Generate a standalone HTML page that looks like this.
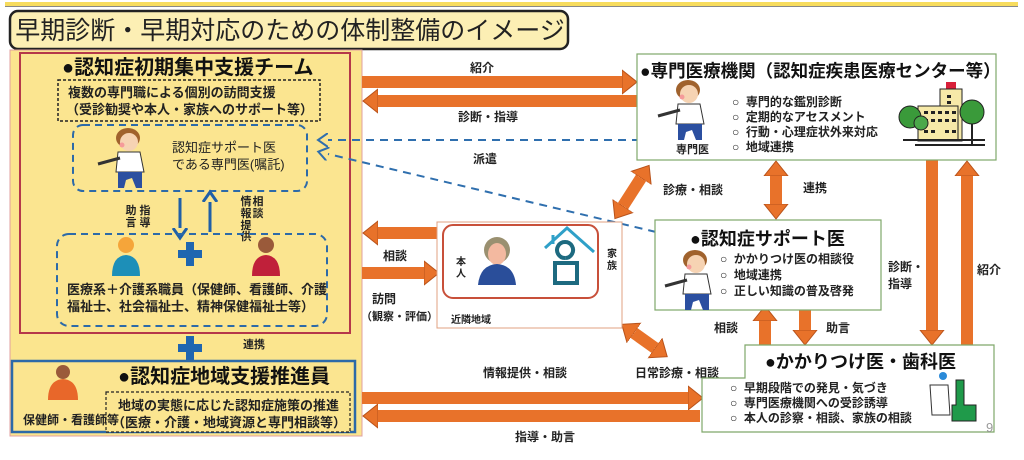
<!DOCTYPE html>
<html><head><meta charset="utf-8"><style>
html,body{margin:0;padding:0;background:#fff;}
svg{display:block;font-family:"Liberation Sans","Noto Sans CJK JP",sans-serif;}
.b{font-weight:bold;}
</style></head><body>
<svg width="1024" height="460" viewBox="0 0 1024 460" xmlns="http://www.w3.org/2000/svg">
<defs>
<marker id="ah" markerUnits="userSpaceOnUse" markerWidth="16" markerHeight="26" refX="0" refY="13" orient="auto-start-reverse">
<path d="M0,1 L15,13 L0,25 Z" fill="#e8722a" stroke="#b8521a" stroke-width="1"/>
</marker>
<marker id="bh" markerUnits="userSpaceOnUse" markerWidth="12" markerHeight="14" refX="0" refY="7" orient="auto-start-reverse">
<path d="M0,0 L10,7 L0,14" fill="none" stroke="#2f6fae" stroke-width="2"/>
</marker>
<marker id="vh" markerUnits="userSpaceOnUse" markerWidth="14" markerHeight="16" refX="0" refY="8" orient="auto">
<path d="M0,1 L10,8 L0,15" fill="none" stroke="#1f5fa8" stroke-width="3"/>
</marker>
<g id="doc">
<ellipse cx="20" cy="10" rx="12" ry="10" fill="#a0622d"/>
<ellipse cx="21" cy="14" rx="9" ry="9" fill="#f6d3b3"/>
<circle cx="14" cy="17" r="2.5" fill="#f59a9a"/>
<path d="M10,24 L32,24 L36,44 L8,44 Z" fill="#fff" stroke="#333" stroke-width="1"/>
<path d="M10,44 L34,44 L34,60 L28,60 L24,50 L18,52 L16,60 L10,60 Z" fill="#2b4fa0"/>
<path d="M12,30 L-10,36" stroke="#333" stroke-width="3"/>
</g>
</defs>

<rect x="5" y="2" width="1013" height="4" fill="#f7dc5e"/>
<rect x="5" y="6" width="1013" height="1" fill="#888"/>

<rect x="10" y="11" width="558" height="38" rx="8" fill="#fcefb4" stroke="#222" stroke-width="2.5"/>
<text x="290" y="39" text-anchor="middle" font-size="25" fill="#222">早期診断・早期対応のための体制整備のイメージ</text>

<rect x="10" y="50" width="352" height="386" fill="#fbe58e" stroke="#e0a0a0" stroke-width="1"/>
<rect x="20" y="53" width="330" height="280" fill="#fbe590" stroke="#b5384a" stroke-width="2"/>
<text x="62" y="74" font-size="20" class="b" fill="#111">●認知症初期集中支援チーム</text>
<rect x="58" y="80" width="262" height="41" fill="none" stroke="#222" stroke-width="1.5" stroke-dasharray="3,2"/>
<text x="68" y="97" font-size="13" class="b" fill="#222">複数の専門職による個別の訪問支援</text>
<text x="66" y="114" font-size="13" class="b" fill="#222">（受診勧奨や本人・家族へのサポート等）</text>

<rect x="73" y="125" width="234" height="66" rx="10" fill="none" stroke="#2d6aa8" stroke-width="2" stroke-dasharray="7,5"/>
<use href="#doc" x="108" y="128"/>
<text x="172" y="152" font-size="13" fill="#222">認知症サポート医</text>
<text x="172" y="169" font-size="13" fill="#222">である専門医(嘱託)</text>

<line x1="180" y1="198" x2="180" y2="228" stroke="#1f5fa8" stroke-width="3" marker-end="url(#vh)"/>
<line x1="210" y1="232" x2="210" y2="202" stroke="#1f5fa8" stroke-width="3" marker-end="url(#vh)"/>
<g font-size="11" class="b" fill="#222" text-anchor="middle">
<text x="145" y="214">指</text><text x="145" y="226">導</text>
<text x="131" y="214">助</text><text x="131" y="226">言</text>
<text x="258" y="205">相</text><text x="258" y="217">談</text>
<text x="246" y="205">情</text><text x="246" y="217">報</text><text x="246" y="229">提</text><text x="246" y="240">供</text>
</g>

<rect x="57" y="234" width="270" height="92" rx="12" fill="none" stroke="#2d6aa8" stroke-width="2" stroke-dasharray="7,5"/>
<path d="M186,242 h8 v8 h8 v8 h-8 v8 h-8 v-8 h-8 v-8 h8 Z" fill="#1f66b0"/>
<circle cx="126" cy="245" r="8" fill="#f5a53a"/>
<path d="M112,276 Q112,256 126,255 Q140,256 140,276 Z" fill="#1d8fb8"/>
<circle cx="266" cy="245" r="8" fill="#9a5a3a"/>
<path d="M252,276 Q252,256 266,255 Q280,256 280,276 Z" fill="#c0203a"/>
<text x="67" y="294" font-size="13" class="b" fill="#222">医療系＋介護系職員（保健師、看護師、介護</text>
<text x="67" y="311" font-size="13" class="b" fill="#222">福祉士、社会福祉士、精神保健福祉士等）</text>

<path d="M186,336 h8 v8 h8 v8 h-8 v10 h-8 v-10 h-8 v-8 h8 Z" fill="#1f66b0"/>
<text x="243" y="348" font-size="11" class="b" fill="#222">連携</text>

<rect x="12" y="361" width="343" height="71" fill="#fbe590" stroke="#2d6aa8" stroke-width="2.5"/>
<text x="118" y="383" font-size="20" class="b" fill="#111">●認知症地域支援推進員</text>
<rect x="106" y="392" width="244" height="40" fill="#fbe590" stroke="#222" stroke-width="1.2" stroke-dasharray="3,2"/>
<circle cx="63" cy="372" r="7" fill="#9a5a3a"/>
<path d="M48,400 Q48,380 63,379 Q78,380 78,400 Z" fill="#e8672a"/>
<text x="23" y="424" font-size="12" class="b" fill="#222">保健師・看護師等</text>
<text x="118" y="410" font-size="13" class="b" fill="#222">地域の実態に応じた認知症施策の推進</text>
<text x="112" y="427" font-size="13" class="b" fill="#222">（医療・介護・地域資源と専門相談等）</text>

<g stroke="#e8722a" stroke-width="12" fill="none">
<line x1="362" y1="82" x2="622" y2="82" marker-end="url(#ah)"/>
<line x1="640" y1="101" x2="378" y2="101" marker-end="url(#ah)"/>
<line x1="440" y1="233" x2="378" y2="233" marker-end="url(#ah)"/>
<line x1="362" y1="273" x2="424" y2="273" marker-end="url(#ah)"/>
<line x1="362" y1="398" x2="688" y2="398" marker-end="url(#ah)"/>
<line x1="700" y1="416" x2="378" y2="416" marker-end="url(#ah)"/>
<line x1="623" y1="206" x2="641" y2="178" marker-start="url(#ah)" marker-end="url(#ah)"/>
<line x1="776" y1="176" x2="776" y2="204" marker-start="url(#ah)" marker-end="url(#ah)"/>
<line x1="634" y1="333" x2="655" y2="348" marker-start="url(#ah)" marker-end="url(#ah)"/>
<line x1="765" y1="345" x2="765" y2="321" marker-end="url(#ah)"/>
<line x1="805" y1="310" x2="805" y2="330" marker-end="url(#ah)"/>
<line x1="932" y1="160" x2="932" y2="330" marker-end="url(#ah)"/>
<line x1="967" y1="345" x2="967" y2="176" marker-end="url(#ah)"/>
</g>

<line x1="640" y1="140" x2="328" y2="140" stroke="#2f6fae" stroke-width="2" stroke-dasharray="8,6" marker-end="url(#bh)"/>
<line x1="656" y1="232" x2="328" y2="154" stroke="#2f6fae" stroke-width="2" stroke-dasharray="8,6" marker-end="url(#bh)"/>

<g font-size="12" class="b" fill="#222">
<text x="470" y="72">紹介</text>
<text x="458" y="121">診断・指導</text>
<text x="473" y="163">派遣</text>
<text x="383" y="260">相談</text>
<text x="372" y="303">訪問</text>
<text x="483" y="377">情報提供・相談</text>
<text x="515" y="441">指導・助言</text>
<text x="663" y="194">診療・相談</text>
<text x="803" y="192">連携</text>
<text x="714" y="332">相談</text>
<text x="826" y="332">助言</text>
<text x="888" y="271">診断・</text>
<text x="888" y="288">指導</text>
<text x="977" y="274">紹介</text>
<text x="635" y="377">日常診療・相談</text>
</g>
<text x="361" y="320" font-size="11" class="b" fill="#222">（観察・評価）</text>

<rect x="437" y="222" width="185" height="106" fill="#fff" stroke="#e0a080" stroke-width="1"/>
<rect x="443" y="225" width="155" height="73" rx="10" fill="#fff" stroke="#c8503a" stroke-width="2"/>
<circle cx="497" cy="250" r="13" fill="#9a9070"/>
<ellipse cx="497" cy="254" rx="9" ry="11" fill="#f3b9a0"/>
<path d="M478,285 Q480,265 497,264 Q514,265 516,285 Z" fill="#2a4e9a"/>
<text x="461" y="265" font-size="10" class="b" fill="#222" text-anchor="middle">本</text>
<text x="461" y="277" font-size="10" class="b" fill="#222" text-anchor="middle">人</text>
<path d="M545,248 L567,228 L594,252" fill="none" stroke="#2fa0c8" stroke-width="3"/>
<path d="M553,244 V235" fill="none" stroke="#2fa0c8" stroke-width="3"/>
<path d="M565,258 a8,8 0 1 1 0.1,0 M555,263 h22 v20 h-22 Z" fill="none" stroke="#1d6a80" stroke-width="4"/>
<text x="612" y="257" font-size="10" class="b" fill="#222" text-anchor="middle">家</text>
<text x="612" y="269" font-size="10" class="b" fill="#222" text-anchor="middle">族</text>
<text x="451" y="323" font-size="10" class="b" fill="#222">近隣地域</text>

<rect x="637" y="54" width="359" height="106" fill="#fff" stroke="#7fa86a" stroke-width="1.2"/>
<text x="640" y="77" font-size="17.5" class="b" fill="#111">●専門医療機関（認知症疾患医療センター等）</text>
<use href="#doc" x="668" y="80"/>
<text x="676" y="153" font-size="11" class="b" fill="#222">専門医</text>
<g font-size="12" class="b" fill="#222">
<text x="732" y="106">○&#160; 専門的な鑑別診断</text>
<text x="732" y="121">○&#160; 定期的なアセスメント</text>
<text x="732" y="136">○&#160; 行動・心理症状外来対応</text>
<text x="732" y="151">○&#160; 地域連携</text>
</g>
<g>
<rect x="946" y="82" width="10" height="7" fill="#d8203a"/>
<rect x="940" y="89" width="22" height="52" fill="#f6e9a8" stroke="#222" stroke-width="1"/>
<rect x="918" y="106" width="40" height="35" fill="#f6e9a8" stroke="#222" stroke-width="1"/>
<g fill="#222">
<rect x="924" y="111" width="4" height="3"/><rect x="931" y="111" width="4" height="3"/><rect x="938" y="111" width="4" height="3"/><rect x="945" y="111" width="4" height="3"/><rect x="952" y="111" width="4" height="3"/>
<rect x="924" y="119" width="4" height="3"/><rect x="931" y="119" width="4" height="3"/><rect x="938" y="119" width="4" height="3"/><rect x="945" y="119" width="4" height="3"/><rect x="952" y="119" width="4" height="3"/>
<rect x="924" y="130" width="4" height="3"/><rect x="931" y="130" width="4" height="3"/><rect x="945" y="130" width="4" height="3"/><rect x="952" y="130" width="4" height="3"/>
<rect x="947" y="95" width="4" height="3"/><rect x="947" y="101" width="4" height="3"/>
</g>
<circle cx="910" cy="117" r="11" fill="#3a9a3a" stroke="#222"/>
<circle cx="921" cy="123" r="7" fill="#4aa84a" stroke="#222"/>
<circle cx="972" cy="112" r="12" fill="#3a9a3a" stroke="#222"/>
<line x1="972" y1="124" x2="972" y2="145" stroke="#222" stroke-width="2"/>
<line x1="903" y1="140" x2="985" y2="140" stroke="#222" stroke-width="2"/>
<line x1="915" y1="145" x2="985" y2="145" stroke="#222" stroke-width="2"/>
</g>

<rect x="655" y="220" width="226" height="90" fill="#fff" stroke="#7fa86a" stroke-width="1.2"/>
<text x="690" y="245" font-size="18" class="b" fill="#111">●認知症サポート医</text>
<use href="#doc" x="675" y="250"/>
<g font-size="12" class="b" fill="#222">
<text x="720" y="263">○&#160; かかりつけ医の相談役</text>
<text x="720" y="279">○&#160; 地域連携</text>
<text x="720" y="295">○&#160; 正しい知識の普及啓発</text>
</g>

<path d="M745,345 H994 V432 H702 V378 H745 Z" fill="#fff" stroke="#7fa86a" stroke-width="1.2"/>
<text x="765" y="368" font-size="18" class="b" fill="#111">●かかりつけ医・歯科医</text>
<g font-size="12" class="b" fill="#222">
<text x="730" y="392">○&#160; 早期段階での発見・気づき</text>
<text x="730" y="407">○&#160; 専門医療機関への受診誘導</text>
<text x="730" y="422">○&#160; 本人の診察・相談、家族の相談</text>
</g>
<circle cx="943" cy="376" r="4" fill="#2a8ad8"/>
<path d="M930,385 L948,385 L950,415 L932,415 Z" fill="#fff" stroke="#333"/>
<path d="M956,380 h8 v25 h12 v16 h-24 v-16 h4 Z" fill="#1f9a4a" stroke="#222"/>
<text x="986" y="432" font-size="13" fill="#999">9</text>
</svg>
</body></html>
